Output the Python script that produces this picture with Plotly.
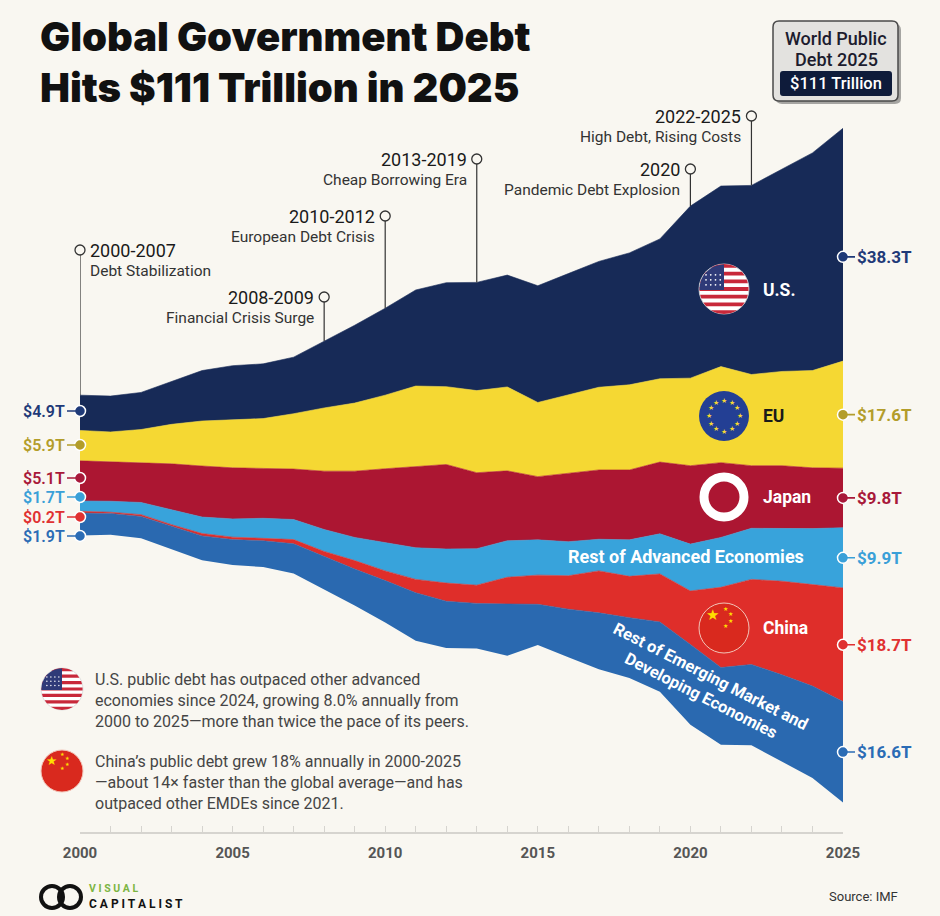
import numpy as np
import plotly.graph_objects as go

years = list(range(2000, 2026))

# public debt in trillions of US$
us = [5.8, 5.9, 6.1, 7.1, 8.3, 8.9, 9.0, 9.3, 11.0, 12.8, 14.3, 15.8, 17.1,
      17.8, 18.4, 19.2, 19.9, 20.7, 21.7, 23.0, 28.3, 29.7, 31.1, 33.3, 35.8, 38.3]
eu = [5.0, 4.9, 5.5, 6.5, 7.4, 7.9, 8.2, 9.1, 10.4, 11.2, 12.1, 13.2, 12.8,
      13.5, 13.8, 12.2, 12.9, 13.6, 14.0, 13.7, 14.4, 15.8, 15.0, 15.5, 16.0, 17.6]
japan = [6.6, 6.5, 6.5, 7.5, 8.4, 8.4, 8.2, 8.3, 9.6, 10.9, 12.1, 13.4, 13.9,
         12.5, 11.5, 10.4, 11.3, 11.4, 11.5, 11.8, 12.9, 12.3, 10.3, 10.3, 10.0, 9.8]
rest_adv = [1.7, 1.8, 2.0, 2.5, 2.7, 3.0, 3.3, 3.3, 3.6, 3.8, 4.7, 5.2, 5.6,
            6.0, 6.0, 5.8, 5.6, 5.2, 6.0, 6.6, 7.7, 8.2, 8.4, 8.7, 9.2, 9.9]
china = [0.3, 0.2, 0.3, 0.3, 0.4, 0.4, 0.4, 0.7, 0.8, 1.4, 1.6, 2.2, 3.0,
         3.0, 4.4, 4.8, 5.5, 6.9, 6.8, 7.9, 8.8, 13.2, 14.0, 15.4, 16.7, 18.7]
rest_emde = [3.7, 3.5, 3.6, 3.8, 4.0, 4.2, 4.3, 4.9, 5.5, 6.0, 6.9, 7.9, 7.7,
             7.4, 8.5, 6.7, 7.9, 9.3, 9.9, 11.5, 13.2, 12.7, 13.3, 14.3, 15.1, 16.6]

# stacking order, bottom -> top
layer_names = ["Rest of EMDEs", "China", "Rest of Advanced Economies", "Japan", "EU", "U.S."]
layer_colors = ["#2A69B0", "#DF2E2A", "#38A3DB", "#AC1632", "#F5D833", "#172A57"]
label_colors = ["#2B6CB5", "#E03131", "#3AA0D8", "#A8193A", "#B39D2A", "#1F3A78"]
start_labels = ["$1.9T", "$0.2T", "$1.7T", "$5.1T", "$5.9T", "$4.9T"]
end_labels = ["$16.6T", "$18.7T", "$9.9T", "$9.8T", "$17.6T", "$38.3T"]

W, H = 940, 916
L, R, T, B = 80, 97, 100, 84
PW, PH = W - L - R, H - T - B
YMIN, YMAX = -60.3, 60.1
BG = "#F9F7F1"
FONT = "Roboto"
INK = "#2B2B2B"


def px(x):
    return (x - L) / PW


def py(y):
    return (H - B - y) / PH


def dy(y):
    return YMIN + (H - B - y) / PH * (YMAX - YMIN)


# silhouette streamgraph: centre the stack on zero
vals = np.array([rest_emde, china, rest_adv, japan, eu, us])
total = vals.sum(axis=0)
base = -total / 2
tops = base + np.cumsum(vals, axis=0)
mids = tops - vals / 2

fig = go.Figure()
fig.add_trace(go.Scatter(x=years, y=base, mode="lines", line=dict(width=0),
                         hoverinfo="skip", showlegend=False))
for i, name in enumerate(layer_names):
    fig.add_trace(go.Scatter(
        x=years, y=tops[i], mode="lines", name=name,
        line=dict(width=0.6, color=layer_colors[i]),
        fill="tonexty", fillcolor=layer_colors[i], showlegend=False,
    ))

shapes = []
annotations = []


def text(x, y, s, size, color=INK, anchor="left", bold=False, weight=None, **kw):
    font = dict(family=kw.pop("family", FONT), size=size, color=color)
    if weight:
        font["weight"] = weight
    annotations.append(dict(
        xref="paper", yref="paper", x=px(x), y=py(y), text=f"<b>{s}</b>" if bold else s,
        showarrow=False, xanchor=anchor, yanchor=kw.pop("yanchor", "middle"), font=font, **kw))


def circle(cx, cy, r, fill, line_color=None, width=0):
    shapes.append(dict(type="circle", xref="paper", yref="paper", layer="above",
                       x0=px(cx - r), x1=px(cx + r), y0=py(cy + r), y1=py(cy - r),
                       fillcolor=fill, line=dict(color=line_color or fill, width=width)))


def poly(points, fill):
    path = "M " + " L ".join(f"{px(x):.5f},{py(y):.5f}" for x, y in points) + " Z"
    shapes.append(dict(type="path", xref="paper", yref="paper", layer="above", path=path,
                       fillcolor=fill, line=dict(width=0)))


def rrect(x0, y0, x1, y1, rad, fill, line_color=None, width=0):
    p = [(x0 + rad, y0), (x1 - rad, y0), (x1, y0), (x1, y0 + rad), (x1, y1 - rad), (x1, y1),
         (x1 - rad, y1), (x0 + rad, y1), (x0, y1), (x0, y1 - rad), (x0, y0 + rad), (x0, y0), (x0 + rad, y0)]
    f = [f"{px(a):.5f},{py(b):.5f}" for a, b in p]
    path = (f"M {f[0]} L {f[1]} Q {f[2]} {f[3]} L {f[4]} Q {f[5]} {f[6]} L {f[7]} "
            f"Q {f[8]} {f[9]} L {f[10]} Q {f[11]} {f[12]} Z")
    shapes.append(dict(type="path", xref="paper", yref="paper", layer="above", path=path,
                       fillcolor=fill, line=dict(color=line_color or fill, width=width)))


def star(x, y, size, color):
    text(x, y, "\u2605", size, color, anchor="center", family="DejaVu Sans")


def us_flag(cx, cy, r):
    circle(cx, cy, r, "#FFFFFF", "#D8D8D8", 0.8)
    h = 2 * r / 13
    for i in range(0, 13, 2):
        ys = np.linspace(-r + i * h, -r + (i + 1) * h, 6)
        xs = np.sqrt(np.clip(r * r - ys ** 2, 0, None)) * 0.98
        pts = [(cx + a, cy + b) for a, b in zip(xs, ys)]
        pts += [(cx - a, cy + b) for a, b in zip(xs[::-1], ys[::-1])]
        poly(pts, "#C8283A")
    t = np.linspace(0, np.pi / 2, 14)
    canton = [(cx, cy + 1)] + [(cx - r * 0.98 * np.cos(a), cy - r * 0.98 * np.sin(a)) for a in t]
    canton[1] = (cx - r * 0.98, cy + 1)
    poly(canton, "#2F3A78")
    for j in range(4):
        for k in range(3):
            circle(cx - r * 0.72 + j * r * 0.19, cy - r * 0.17 - k * r * 0.2, r * 0.035, "#FFFFFF")


def china_flag(cx, cy, r):
    circle(cx, cy, r, "#D9291E", "#F2C4B8", 1)
    k = r / 25
    star(cx - 12 * k, cy - 13 * k, 15 * k, "#FFDE00")
    for ox, oy in [(1, -20), (6.5, -15), (6.5, -8), (1, -3)]:
        star(cx + ox * k, cy + oy * k, 6 * k, "#FFDE00")


def eu_flag(cx, cy, r):
    circle(cx, cy, r, "#233F94", "#233F94", 0)
    for t in np.linspace(0, 2 * np.pi, 13)[:-1]:
        star(cx + 0.62 * r * np.sin(t), cy - 0.62 * r * np.cos(t), 7, "#F5D833")


# title
text(38, 37, "Global Government Debt", 40, "#111111", weight=900, family="Inter")
text(38, 88, "Hits $111 Trillion in 2025", 40, "#111111", weight=900, family="Inter")

# badge
rrect(776, 24, 901, 104, 6, "#A6A5A2")
rrect(773, 21, 898, 101, 6, "#E3E2DF", "#4A4A4A", 1.5)
rrect(780, 71, 892, 96, 3, "#0E1B3A")
text(836, 38, "World Public", 18, "#1C1C2E", anchor="center", weight=500)
text(836, 60, "Debt 2025", 18, "#1C1C2E", anchor="center", weight=500)
text(836, 84, "$111 Trillion", 16.5, "#FFFFFF", anchor="center", weight=500)

# era pins
pins = [
    (2000, 250, "2000-2007", "Debt Stabilization", "left"),
    (2008, 297, "2008-2009", "Financial Crisis Surge", "right"),
    (2010, 216, "2010-2012", "European Debt Crisis", "right"),
    (2013, 159, "2013-2019", "Cheap Borrowing Era", "right"),
    (2020, 169, "2020", "Pandemic Debt Explosion", "right"),
    (2022, 116, "2022-2025", "High Debt, Rising Costs", "right"),
]
for yr, cy, head, sub, anchor in pins:
    top = tops[-1][years.index(yr)]
    fig.add_trace(go.Scatter(x=[yr, yr], y=[top, dy(cy)], mode="lines",
                             line=dict(color="#333333", width=1.2),
                             hoverinfo="skip", showlegend=False))
    fig.add_trace(go.Scatter(x=[yr], y=[dy(cy)], mode="markers", cliponaxis=False,
                             marker=dict(size=10, color=BG, line=dict(color="#333333", width=1.3)),
                             hoverinfo="skip", showlegend=False))
    shift = 8 if anchor == "left" else -8
    for dyp, s, size, col in [(0, head, 18, "#1A1A1A"), (21, sub, 15.5, "#333333")]:
        annotations.append(dict(xref="x", yref="y", x=yr, y=dy(cy + dyp), text=s,
                                showarrow=False, xanchor=anchor, yanchor="middle", xshift=shift,
                                font=dict(family=FONT, size=size, color=col)))

# start / end value labels
start_px = [536, 517, 497, 478, 445, 411]
end_nudge = [0, 0, 0, 0, 0, -2.0]
for i in range(6):
    annotations.append(dict(xref="x", yref="y", x=years[0], y=dy(start_px[i]), text=start_labels[i],
                            showarrow=True, arrowhead=0, arrowwidth=1.6, arrowcolor=label_colors[i],
                            ax=-13, ay=0, standoff=4, xanchor="right",
                            font=dict(family=FONT, size=16, color=label_colors[i], weight=600)))
    annotations.append(dict(xref="x", yref="y", x=years[-1], y=mids[i][-1] + end_nudge[i],
                            text=end_labels[i],
                            showarrow=True, arrowhead=0, arrowwidth=1.6, arrowcolor=label_colors[i],
                            ax=12, ay=0, standoff=4, xanchor="left",
                            font=dict(family=FONT, size=17, color=label_colors[i], weight=700)))
fig.add_trace(go.Scatter(x=[years[0]] * 6, y=[dy(v) for v in start_px], mode="markers",
                         cliponaxis=False, hoverinfo="skip", showlegend=False,
                         marker=dict(size=11, color=label_colors, line=dict(color="#FFFFFF", width=1.5))))
fig.add_trace(go.Scatter(x=[years[-1]] * 6, y=list(mids[:, -1] + np.array(end_nudge)), mode="markers",
                         cliponaxis=False, hoverinfo="skip", showlegend=False,
                         marker=dict(size=11, color=label_colors, line=dict(color="#FFFFFF", width=1.5))))

# in-chart flags and names
us_flag(724, 289, 25)
text(761, 290, "U.S.", 17.5, "#FFFFFF", bold=True)
eu_flag(724, 416, 25)
text(761, 416, "EU", 17.5, "#1A1A1A", bold=True)
circle(724, 497, 20, "rgba(0,0,0,0)", "#FFFFFF", 9)
text(761, 497, "Japan", 17.5, "#FFFFFF", bold=True)
text(686, 556, "Rest of Advanced Economies", 18, "#FFFFFF", anchor="center", bold=True)
china_flag(724, 628, 25)
text(761, 628, "China", 17.5, "#FFFFFF", bold=True)
text(706, 686, "Rest of Emerging Market and<br>Developing Economies", 16.5, "#FFFFFF",
     anchor="center", bold=True, textangle=27)

# notes
us_flag(62, 689, 21)
text(93, 668, "U.S. public debt has outpaced other advanced<br>economies since 2024, growing 8.0% annually from"
     "<br>2000 to 2025\u2014more than twice the pace of its peers.", 16, "#454545",
     yanchor="top", align="left")
china_flag(62, 771, 21)
text(93, 750, "China\u2019s public debt grew 18% annually in 2000-2025<br>\u2014about 14\u00d7 faster than the global "
     "average\u2014and has<br>outpaced other EMDEs since 2021.", 16, "#454545",
     yanchor="top", align="left")

# footer
circle(52, 897, 11, "rgba(0,0,0,0)", "#111111", 4)
circle(70, 897, 11, "rgba(0,0,0,0)", "#111111", 4)
text(87, 888, "<b>V I S U A L</b>", 10.5, "#7DB543")
text(87, 904, "<b>C A P I T A L I S T</b>", 12, "#111111")
text(900, 896, "Source: IMF", 13, "#333333", anchor="right")

fig.update_layout(
    width=W, height=H,
    margin=dict(l=L, r=R, t=T, b=B),
    paper_bgcolor=BG, plot_bgcolor=BG,
    font=dict(family=FONT, color=INK),
    showlegend=False,
    xaxis=dict(range=[years[0], years[-1]], showgrid=False, zeroline=False,
               showline=True, linecolor="#D6D4CF", linewidth=1.5,
               tick0=2000, dtick=5, ticks="inside", ticklen=6, tickcolor="#D6D4CF",
               minor=dict(dtick=1, ticks="inside", ticklen=6, tickcolor="#D6D4CF"),
               ticklabelstandoff=6,
               tickfont=dict(family=FONT, size=15, color="#555555", weight="bold")),
    yaxis=dict(range=[YMIN, YMAX], visible=False, fixedrange=True),
    shapes=shapes,
    annotations=annotations,
)

fig.write_html("out.html", config={"displayModeBar": False},
               post_script="document.body.style.margin = '0';")
